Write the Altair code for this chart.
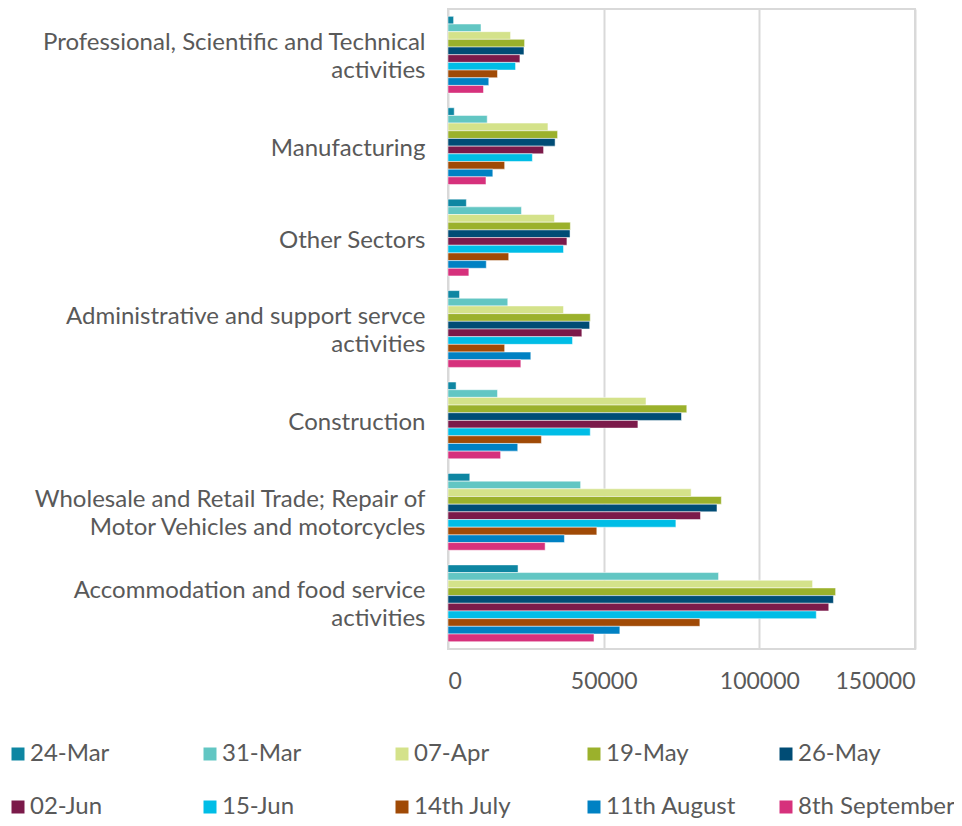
import altair as alt
import pandas as pd

categories = [
    "Professional, Scientific and Technical\nactivities",
    "Manufacturing",
    "Other Sectors",
    "Administrative and support servce\nactivities",
    "Construction",
    "Wholesale and Retail Trade; Repair of\nMotor Vehicles and motorcycles",
    "Accommodation and food service\nactivities",
]

series = ["24-Mar", "31-Mar", "07-Apr", "19-May", "26-May",
          "02-Jun", "15-Jun", "14th July", "11th August", "8th September"]

values = {
    "24-Mar":        [1800, 2000, 5900, 3700, 2600, 7000, 22500],
    "31-Mar":        [10600, 12600, 23600, 19200, 15900, 42600, 86900],
    "07-Apr":        [20100, 32100, 34200, 37100, 63600, 78100, 117100],
    "19-May":        [24600, 35200, 39300, 45700, 76700, 87800, 124500],
    "26-May":        [24400, 34400, 39200, 45500, 75000, 86400, 123800],
    "02-Jun":        [23100, 30700, 38200, 43000, 61000, 81100, 122300],
    "15-Jun":        [21700, 27100, 37100, 40000, 45700, 73200, 118300],
    "14th July":     [15900, 18200, 19500, 18200, 30000, 47800, 80900],
    "11th August":   [13100, 14400, 12300, 26600, 22400, 37400, 55200],
    "8th September": [11400, 12200, 6700, 23400, 16900, 31200, 46900],
}

colors = ["#0E86A2", "#62C6C3", "#D4E28A", "#9BB12C", "#004C75",
          "#7B1A4A", "#00BDE6", "#A04A06", "#0081C3", "#D6317C"]

x_ticks = [0, 50000, 100000, 150000]

rows = []
for s in series:
    for c, v in zip(categories, values[s]):
        rows.append({"Sector": c, "Date": s, "Value": v})
df = pd.DataFrame(rows)

FONT = "Lato"
GREY = "#595959"

chart = alt.Chart(df).mark_bar(stroke="white", strokeWidth=0.5).encode(
    x=alt.X("Value:Q",
            scale=alt.Scale(domain=[0, 150000], nice=False),
            axis=alt.Axis(values=x_ticks, format="d", title=None, ticks=False,
                          domain=False, grid=True, gridColor="#D9D9D9",
                          gridWidth=2, labelFontSize=23, labelColor=GREY,
                          labelFont=FONT, labelPadding=21)),
    y=alt.Y("Sector:N", sort=categories,
            scale=alt.Scale(paddingInner=0.16, paddingOuter=0.08),
            axis=alt.Axis(title=None, ticks=False, domain=False,
                          labelExpr="split(datum.label, '\\n')",
                          labelOffset={"condition": {"test": "indexof(datum.value, '\\n') >= 0",
                                                     "value": -12},
                                       "value": 3},
                          labelFontSize=24, labelColor=GREY, labelFont=FONT,
                          labelLineHeight=28, labelPadding=23, labelLimit=500)),
    yOffset=alt.YOffset("Date:N", sort=series, scale=alt.Scale(paddingInner=0)),
    color=alt.Color("Date:N", sort=series,
                    scale=alt.Scale(domain=series, range=colors),
                    legend=alt.Legend(title=None, orient="none",
                                      legendX=-442, legendY=733, padding=0,
                                      direction="horizontal", columns=5,
                                      gridAlign="all", columnPadding=11,
                                      rowPadding=29,
                                      symbolType="square",
                                      symbolSize=169, symbolStrokeWidth=0,
                                      labelFontSize=24, labelColor=GREY,
                                      labelFont=FONT, labelOffset=0,
                                      labelLimit=400)),
).properties(
    width=467, height=640,
    autosize=alt.AutoSizeParams(type="none"),
    padding={"left": 440, "top": 1, "right": 39, "bottom": 169},
).configure_view(
    stroke="#D9D9D9", strokeWidth=2
)

chart.save("out.html", embed_options={"renderer": "svg", "actions": False})
